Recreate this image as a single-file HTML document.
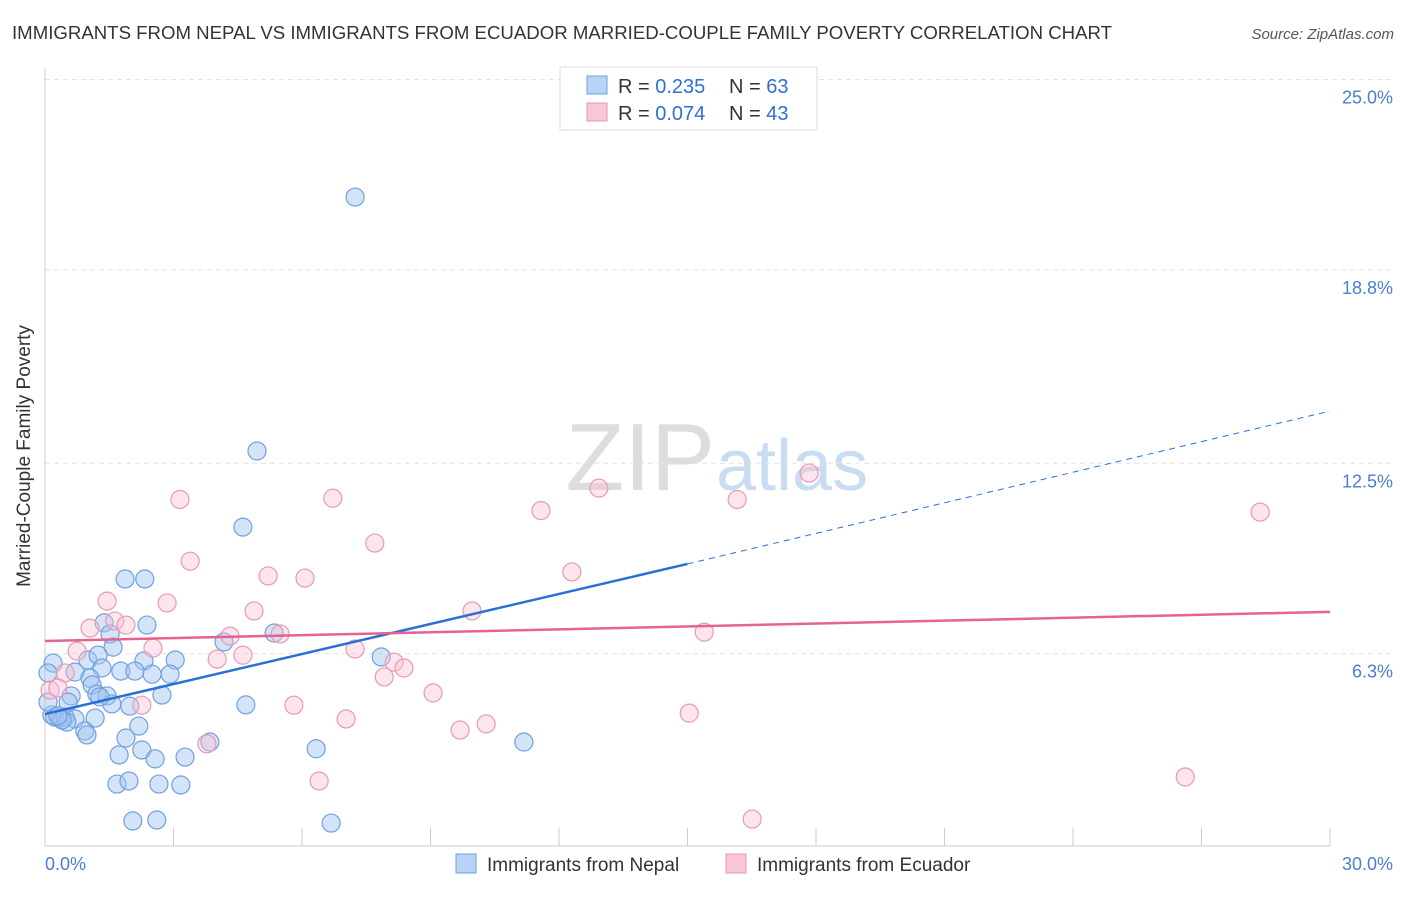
<!DOCTYPE html>
<html><head><meta charset="utf-8"><style>
body{margin:0;background:#fff;font-family:"Liberation Sans",sans-serif;}
svg text{font-family:"Liberation Sans",sans-serif;}
</style></head><body>
<svg width="1406" height="892">
<text x="12" y="39" font-size="18" fill="#333" textLength="1100" lengthAdjust="spacingAndGlyphs">IMMIGRANTS FROM NEPAL VS IMMIGRANTS FROM ECUADOR MARRIED-COUPLE FAMILY POVERTY CORRELATION CHART</text>
<text x="1394" y="39" font-size="15" fill="#555" font-style="italic" text-anchor="end">Source: ZipAtlas.com</text>
<text x="715" y="490" font-size="96" fill="#ddd" text-anchor="end" font-family="Liberation Serif">ZIP</text>
<text x="716" y="490" font-size="72" fill="#c9dcf2">atlas</text>
<g id="grid"></g>
<line x1="45" y1="68" x2="45" y2="846" stroke="#ccc"/>
<line x1="45" y1="846" x2="1330" y2="846" stroke="#ccc"/>
<g id="xticks"></g>
<text x="30" y="456" font-size="19" fill="#333" text-anchor="middle" transform="rotate(-90 30 456)">Married-Couple Family Poverty</text>
<text x="45" y="870" font-size="18" fill="#4a7fd0">0.0%</text>
<text x="1393" y="870" font-size="18" fill="#4a7fd0" text-anchor="end">30.0%</text>
<g id="pts"></g>
<g id="trends"></g>
<g>
<rect x="560" y="67" width="257" height="63" fill="#fff" stroke="#ddd"/>
<rect x="587" y="76" width="20" height="18" fill="#b8d3f5" stroke="#6fa0e0"/>
<rect x="587" y="103" width="20" height="18" fill="#f8c6d6" stroke="#e89ab3"/>
<text x="618" y="93" font-size="20" fill="#333">R = <tspan fill="#2f6fd6">0.235</tspan></text>
<text x="729" y="93" font-size="20" fill="#333">N = <tspan fill="#2f6fd6">63</tspan></text>
<text x="618" y="120" font-size="20" fill="#333">R = <tspan fill="#2f6fd6">0.074</tspan></text>
<text x="729" y="120" font-size="20" fill="#333">N = <tspan fill="#2f6fd6">43</tspan></text>
</g>
<g>
<rect x="456" y="854" width="20" height="19" fill="#b8d3f5" stroke="#6fa0e0"/>
<text x="487" y="871" font-size="19" fill="#333">Immigrants from Nepal</text>
<rect x="726" y="854" width="20" height="19" fill="#f8c6d6" stroke="#e89ab3"/>
<text x="757" y="871" font-size="19" fill="#333">Immigrants from Ecuador</text>
</g>
</svg>
<script>
const yTicks=[25.0,18.8,12.5,6.3];
const yTickLabels=["25.0%","18.8%","12.5%","6.3%"];
const xTicks=[0,3,6,9,12,15,18,21,24,27,30];
const nepalX=[7.24,4.95,4.62,1.87,2.33,1.38,2.38,1.52,1.59,5.35,4.18,0.19,1.00,1.24,2.31,3.04,7.85,0.07,0.70,1.33,1.77,2.10,2.50,2.92,1.05,1.10,0.61,1.21,1.45,2.73,0.54,1.56,1.98,4.69,0.23,0.35,0.47,0.70,1.17,0.16,0.51,0.93,0.98,2.19,1.89,2.26,1.73,2.57,3.27,3.85,6.33,11.18,1.68,1.96,2.66,3.17,2.05,2.61,6.68,0.07,0.40,0.30,1.28];
const nepalY=[21.17,12.9,10.42,8.73,8.73,7.30,7.23,6.94,6.51,6.97,6.68,5.99,6.09,6.25,6.06,6.09,6.19,5.67,5.70,5.83,5.73,5.73,5.63,5.63,5.50,5.28,4.92,4.98,4.92,4.95,4.72,4.66,4.59,4.63,4.23,4.20,4.23,4.17,4.20,4.30,4.07,3.78,3.65,3.94,3.55,3.16,3.00,2.87,2.93,3.42,3.20,3.42,2.05,2.15,2.05,2.02,0.85,0.88,0.78,4.72,4.14,4.27,4.89];
const ecuadorX=[3.15,6.72,12.93,17.84,16.16,11.58,28.37,7.70,3.39,5.21,6.07,12.30,1.45,2.85,1.63,1.89,4.88,9.97,1.05,4.32,5.49,15.39,2.52,7.24,4.62,4.02,0.75,0.47,8.15,8.38,7.92,9.06,5.81,2.26,15.04,7.03,10.30,9.69,3.78,6.40,26.62,16.51,0.12,0.30];
const ecuadorY=[11.32,11.36,11.69,12.18,11.32,10.96,10.91,9.90,9.31,8.83,8.76,8.96,8.01,7.95,7.36,7.23,7.69,7.69,7.13,6.87,6.94,7.00,6.48,6.45,6.25,6.12,6.38,5.67,6.02,5.83,5.54,5.02,4.62,4.62,4.36,4.17,4.01,3.81,3.36,2.15,2.28,0.91,5.11,5.18];
const nepalTrend=[[0,4.33],[15,9.22]], nepalTrendExt=[[15,9.22],[30,14.2]];
const ecuadorTrend=[[0,6.71],[30,7.66]];
const NS="http://www.w3.org/2000/svg";
const X0=45,X1=1330,Y0=847,PXY=30.7;
function sx(v){return X0+(X1-X0)*v/30;}
function sy(v){return Y0-v*PXY;}
function mk(t,a,p){const e=document.createElementNS(NS,t);for(const k in a)e.setAttribute(k,a[k]);p.appendChild(e);return e;}
const grid=document.getElementById('grid');
yTicks.forEach((t,i)=>{
 const l=mk('line',{x1:45,x2:1393,y1:sy(t),y2:sy(t),stroke:'#e2e2e2','stroke-dasharray':'5,4'},grid);
 
 
 const tx=mk('text',{x:1393,y:sy(t)+24,'font-size':18,fill:'#4a7fd0','text-anchor':'end'},grid);
 tx.textContent=yTickLabels[i];
 
 
});
const xt=document.getElementById('xticks');
xTicks.forEach(t=>{
 const l=mk('line',{x1:sx(t),x2:sx(t),y1:828,y2:846,stroke:'#ccc'},xt);
 
 
});
const pts=document.getElementById('pts');
nepalX.forEach((v,i)=>{
 const c=mk('circle',{cx:sx(v),cy:sy(nepalY[i]),r:9,fill:'rgba(160,196,240,0.45)',stroke:'#6fa0e0','stroke-width':1.2},pts);
 
 
});
ecuadorX.forEach((v,i)=>{
 const c=mk('circle',{cx:sx(v),cy:sy(ecuadorY[i]),r:9,fill:'rgba(248,190,210,0.4)',stroke:'#e89ab3','stroke-width':1.2},pts);
 
 
});
const tr=document.getElementById('trends');
let l1=mk('line',{x1:sx(nepalTrend[0][0]),y1:sy(nepalTrend[0][1]),x2:sx(nepalTrend[1][0]),y2:sy(nepalTrend[1][1]),stroke:'#2a6fd6','stroke-width':2.5},tr);


let l2=mk('line',{x1:sx(nepalTrendExt[0][0]),y1:sy(nepalTrendExt[0][1]),x2:sx(nepalTrendExt[1][0]),y2:sy(nepalTrendExt[1][1]),stroke:'#2a6fd6','stroke-width':1,'stroke-dasharray':'6,5'},tr);


let l3=mk('line',{x1:sx(ecuadorTrend[0][0]),y1:sy(ecuadorTrend[0][1]),x2:sx(ecuadorTrend[1][0]),y2:sy(ecuadorTrend[1][1]),stroke:'#e5638f','stroke-width':2.5},tr);


</script>
</body></html>
